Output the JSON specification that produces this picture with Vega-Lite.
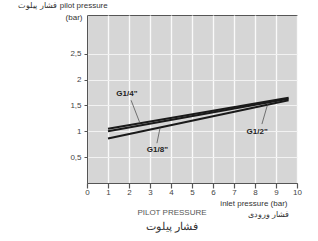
{
  "$schema": "https://vega.github.io/schema/vega-lite/v6.json",
  "autosize": "none",
  "width": 210,
  "height": 168,
  "padding": {"left": 87, "top": 15, "right": 21, "bottom": 58},
  "background": "white",
  "config": {
    "font": "Liberation Sans",
    "view": {"fill": "#d6d6d6", "stroke": "#555555", "strokeWidth": 1},
    "axis": {"labelFont": "Liberation Sans", "labelFontSize": 8, "labelColor": "#444", "titleFont": "Liberation Sans", "titleFontSize": 8, "titleFontWeight": "normal", "titleColor": "#333", "domainColor": "#555", "tickColor": "#555", "gridColor": "#f2f2f2", "gridWidth": 1}
  },
  "title": {
    "text": "PILOT PRESSURE",
    "subtitle": "فشار پیلوت",
    "orient": "bottom",
    "anchor": "middle",
    "dx": -20,
    "offset": -10,
    "fontSize": 8,
    "fontWeight": "normal",
    "color": "#555",
    "subtitleFontSize": 11,
    "subtitleColor": "#333",
    "subtitlePadding": 4,
    "font": "Liberation Sans",
    "subtitleFont": "Noto Sans"
  },
  "datasets": {
    "lines": [
      {"series": "G1/8\"", "p": 1, "v": 0.86},
      {"series": "G1/8\"", "p": 9.6, "v": 1.6},
      {"series": "G1/2\"", "p": 1, "v": 1.0},
      {"series": "G1/2\"", "p": 9.6, "v": 1.63},
      {"series": "G1/4\"", "p": 1, "v": 1.05},
      {"series": "G1/4\"", "p": 9.6, "v": 1.65}
    ],
    "labels": [
      {"label": "G1/4\"", "p": 1.9, "v": 1.72},
      {"label": "G1/8\"", "p": 3.35, "v": 0.64},
      {"label": "G1/2\"", "p": 8.1, "v": 0.99}
    ],
    "leaders": [
      {"p": 2.1, "v": 1.6, "p2": 2.5, "v2": 1.18},
      {"p": 3.33, "v": 0.77, "p2": 3.48, "v2": 1.07},
      {"p": 8.33, "v": 1.14, "p2": 8.62, "v2": 1.55}
    ],
    "enlabel": [{"t": "pilot pressure", "p": -1.3, "v": 3.42}],
    "falabel": [{"t": "فشار پیلوت", "p": -1.45, "v": 3.42}]
  },
  "encoding": {
    "x": {"field": "p", "type": "quantitative", "scale": {"domain": [0, 10], "nice": false},
      "axis": {"values": [0,1,2,3,4,5,6,7,8,9,10], "grid": true, "gridColor": "#fafafa", "gridWidth": 1.3, "tickWidth": 1.2, "labelOverlap": false, "labelBound": false, "labelFlush": false, "tickSize": 5, "labelPadding": 0,
        "title": "inlet pressure (bar)", "titleAnchor": "end", "titleAlign": "right", "titleX": 200, "titleY": 22, "titleBaseline": "alphabetic"}},
    "y": {"field": "v", "type": "quantitative", "scale": {"domain": [0, 3.25], "nice": false},
      "axis": {"values": [0.5, 1, 1.5, 2, 2.5], "grid": true, "tickSize": 3, "labelPadding": 3,
        "labelExpr": "replace(format(datum.value, '.1~f'), '.', ',')",
        "title": "(bar)", "titleAngle": 0, "titleAlign": "right", "titleX": -5, "titleY": 2, "titleBaseline": "middle"}}
  },
  "layer": [
    {
      "data": {"name": "lines"},
      "mark": {"type": "line", "color": "#1a1a1a", "strokeWidth": 2, "clip": false},
      "encoding": {
        "detail": {"field": "series"},
        "strokeWidth": {"field": "series", "type": "nominal", "scale": {"domain": ["G1/8\"", "G1/2\"", "G1/4\""], "range": [1.5, 1.5, 2.5]}, "legend": null}
      }
    },
    {
      "data": {"name": "leaders"},
      "mark": {"type": "rule", "color": "#444", "strokeWidth": 0.7},
      "encoding": {
        "x2": {"field": "p2"},
        "y2": {"field": "v2"}
      }
    },
    {
      "data": {"name": "labels"},
      "mark": {"type": "text", "fontSize": 8, "fontWeight": "bold", "color": "#222", "font": "Liberation Sans"},
      "encoding": {
        "text": {"field": "label"}
      }
    },
    {
      "data": {"name": "enlabel"},
      "mark": {"type": "text", "fontSize": 8, "color": "#333", "align": "left", "baseline": "middle", "clip": false},
      "encoding": {"text": {"field": "t"}}
    },
    {
      "data": {"name": "falabel"},
      "mark": {"type": "text", "fontSize": 8, "color": "#333", "align": "right", "baseline": "middle", "clip": false, "font": "Noto Sans"},
      "encoding": {"text": {"field": "t"}}
    },
    {
      "data": {"values": [{"t": "فشار ورودی", "p": 9.6, "v": -0.62}]},
      "mark": {"type": "text", "fontSize": 8, "color": "#333", "align": "right", "baseline": "middle", "clip": false, "font": "Noto Sans"},
      "encoding": {"text": {"field": "t"}}
    }
  ]
}
